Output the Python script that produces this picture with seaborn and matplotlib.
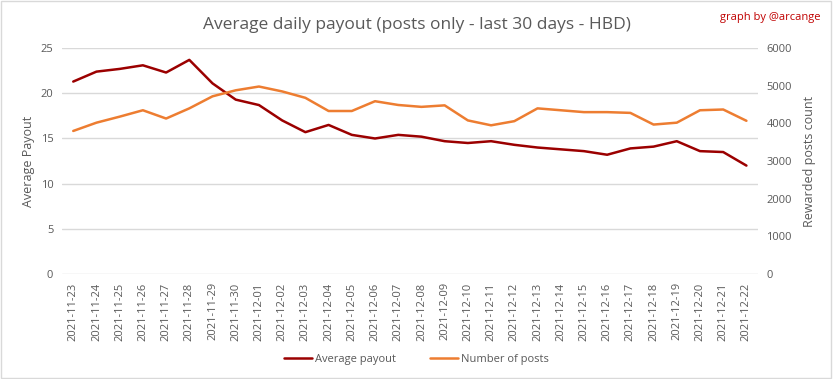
import pandas as pd
import matplotlib
matplotlib.use('Agg')
import matplotlib.pyplot as plt
import seaborn as sns

dates = ['2021-11-23', '2021-11-24', '2021-11-25', '2021-11-26', '2021-11-27', '2021-11-28',
         '2021-11-29', '2021-11-30', '2021-12-01', '2021-12-02', '2021-12-03', '2021-12-04',
         '2021-12-05', '2021-12-06', '2021-12-07', '2021-12-08', '2021-12-09', '2021-12-10',
         '2021-12-11', '2021-12-12', '2021-12-13', '2021-12-14', '2021-12-15', '2021-12-16',
         '2021-12-17', '2021-12-18', '2021-12-19', '2021-12-20', '2021-12-21', '2021-12-22']

average_payout = [21.3, 22.4, 22.7, 23.1, 22.3, 23.7, 21.1, 19.3, 18.7, 17.0,
                  15.7, 16.5, 15.4, 15.0, 15.4, 15.2, 14.7, 14.5, 14.7, 14.3,
                  14.0, 13.8, 13.6, 13.2, 13.9, 14.1, 14.7, 13.6, 13.5, 12.0]

number_of_posts = [3800, 4020, 4180, 4350, 4130, 4400, 4720, 4880, 4980, 4850,
                   4680, 4330, 4330, 4590, 4490, 4440, 4480, 4080, 3950, 4060,
                   4400, 4350, 4300, 4300, 4280, 3970, 4020, 4350, 4370, 4070]

df = pd.DataFrame({'data': dates, 'payout': average_payout, 'posts': number_of_posts})
df['pos'] = range(len(df))

sns.set_style('white')
plt.rcParams['font.family'] = ['Open Sans', 'DejaVu Sans']

cinza = '#595959'
vermelho = '#9b0000'
laranja = '#ed7d31'

fig = plt.figure(figsize=(8.33, 3.79), dpi=100)
ax = fig.add_axes([0.074, 0.277, 0.836, 0.596])
ax2 = ax.twinx()

sns.lineplot(data=df, x='pos', y='payout', ax=ax, color=vermelho, linewidth=1.8, label='Average payout', legend=False)
sns.lineplot(data=df, x='pos', y='posts', ax=ax2, color=laranja, linewidth=1.8, label='Number of posts', legend=False)

ax.set_ylim(0, 25)
ax.set_yticks([0, 5, 10, 15, 20, 25])
ax2.set_ylim(0, 6000)
ax2.set_yticks([0, 1000, 2000, 3000, 4000, 5000, 6000])
ax.set_xlim(-0.5, len(df) - 0.5)
ax.set_xticks(df['pos'])
ax.set_xticklabels(dates, rotation=90)

ax.grid(axis='y', color='#d9d9d9', linewidth=1)
ax.set_axisbelow(True)
for a in (ax, ax2):
    for s in a.spines.values():
        s.set_visible(False)
    a.tick_params(length=0, labelsize=8, colors=cinza, pad=6)

ax.set_xlabel('')
ax.set_ylabel('Average Payout', color=cinza, fontsize=9)
ax2.set_ylabel('Rewarded posts count', color=cinza, fontsize=9, labelpad=8)

fig.suptitle('Average daily payout (posts only - last 30 days - HBD)', y=0.955, fontsize=12.5, color=cinza)
fig.text(0.985, 0.955, 'graph by @arcange', ha='right', va='center', fontsize=8, color='#c00000')

h1, l1 = ax.get_legend_handles_labels()
h2, l2 = ax2.get_legend_handles_labels()
fig.legend(h1 + h2, l1 + l2, loc='lower center', bbox_to_anchor=(0.5, 0.01), ncol=2, frameon=False,
           fontsize=8, labelcolor=cinza, handlelength=2.5, columnspacing=3, handletextpad=0.3)

fig.patches.append(plt.Rectangle((0.001, 0.002), 0.997, 0.995, transform=fig.transFigure,
                                 fill=False, edgecolor='#d9d9d9', linewidth=1))

plt.savefig('out.png', dpi=100)
